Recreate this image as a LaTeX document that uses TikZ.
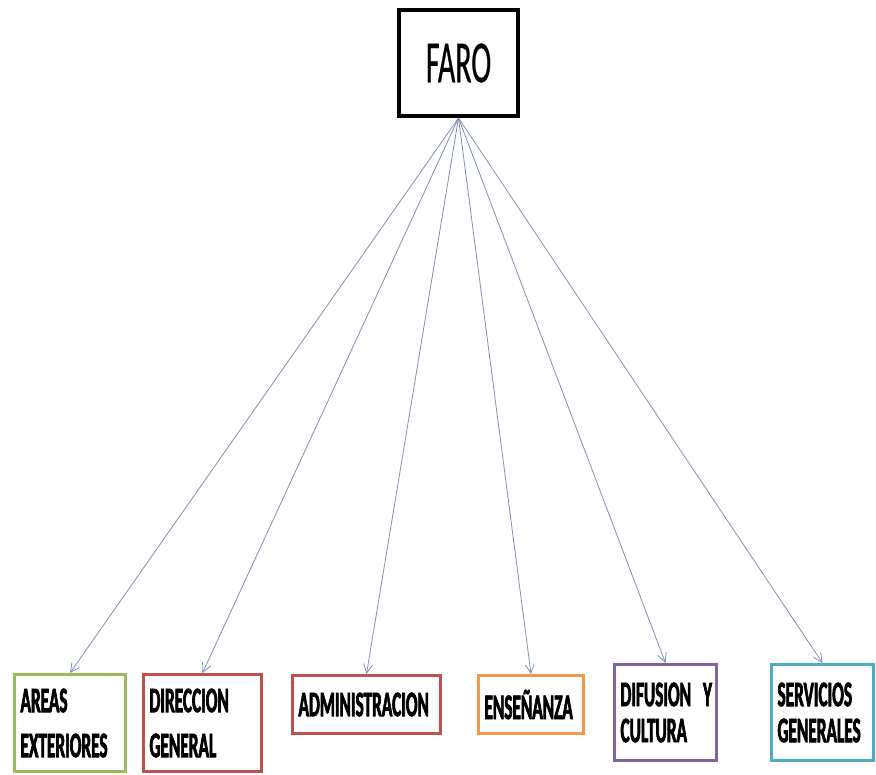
\documentclass[tikz,border=0pt]{standalone}
\usepackage{fontspec}
\setmainfont{Carlito}[FakeStretch=0.5,FakeBold=0.4]
\newfontfamily\boxfont{Carlito}[FakeStretch=0.48,BoldFeatures={FakeBold=1.8}]
\newcommand\areafont{\boxfont\fontsize{36}{36}\selectfont\bfseries\spaceskip=4pt\relax}
\usetikzlibrary{arrows.meta}
\definecolor{areagreen}{HTML}{9BBB59}
\definecolor{areared}{HTML}{C0504D}
\definecolor{areaorange}{HTML}{F79646}
\definecolor{areapurple}{HTML}{8064A2}
\definecolor{areateal}{HTML}{4BACC6}
\definecolor{linkblue}{RGB}{125,145,175}
\begin{document}
\begin{tikzpicture}[x=1pt,y=-1pt]
      \useasboundingbox (0,0) rectangle (876,775);
      \node[draw=black,line width=4pt,minimum width=119pt,minimum height=106pt,
        font=\fontsize{60}{62}\selectfont] (faro) at (458.5,63) {FARO};
      \begin{scope}[every node/.style={draw,line width=3pt,inner xsep=6pt,align=left,
          font=\areafont}]
        \node[draw=areagreen,text width=99pt,minimum height=97pt] (areas) at (70,723) {AREAS\\[9pt]EXTERIORES};
        \node[draw=areared,text width=106pt,minimum height=97pt] (direccion) at (202.5,723) {DIRECCION\\[9pt]GENERAL};
        \node[draw=areared,text width=136pt,minimum height=58pt] (admin) at (366.5,704.5) {ADMINISTRACION};
        \node[draw=areaorange,text width=93pt,minimum height=58pt] (ensenanza) at (531,704.5) {ENSEÑANZA};
        \node[draw=areapurple,text width=90pt,minimum height=96pt] (difusion) at (665.5,712.5) {\mbox{DIFUSION Y}\\CULTURA};
        \node[draw=areateal,text width=90pt,minimum height=96pt] (servicios) at (822.5,712.5) {SERVICIOS\\GENERALES};
      \end{scope}
      \begin{scope}[every edge/.style={draw=linkblue,line width=0.8pt,-{Straight Barb[length=9pt,width=9pt]}}]
        \path (faro.south) edge (areas.north);
        \path (faro.south) edge (direccion.north);
        \path (faro.south) edge (admin.north);
        \path (faro.south) edge (ensenanza.north);
        \path (faro.south) edge (difusion.north);
        \path (faro.south) edge (servicios.north);
      \end{scope}
    \end{tikzpicture}
\end{document}
